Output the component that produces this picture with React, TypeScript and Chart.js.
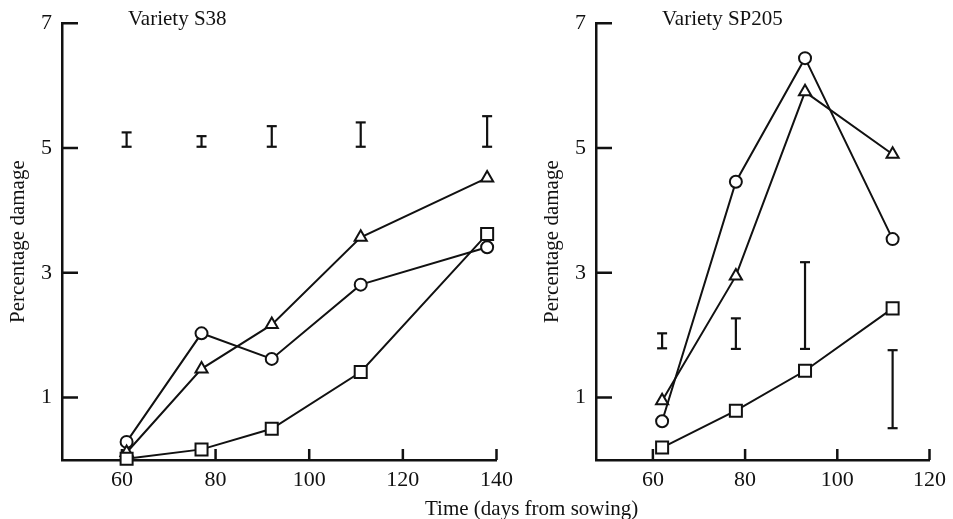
import React, { useEffect, useRef } from "react";
import { Chart, registerables } from "chart.js";

Chart.register(...registerables);

// ---- Data: Variety S38 ----
const daysS38 = [61, 77, 92, 111, 138];
const circleS38 = [0.29, 2.03, 1.62, 2.81, 3.41];
const triangleS38 = [0.12, 1.46, 2.17, 3.57, 4.52];
const squareS38 = [0.02, 0.17, 0.5, 1.41, 3.62];
const errLowS38 = [5.02, 5.02, 5.02, 5.02, 5.02];
const errHighS38 = [5.25, 5.19, 5.35, 5.41, 5.51];

// ---- Data: Variety SP205 ----
const daysSP205 = [62, 78, 93, 112];
const circleSP205 = [0.62, 4.46, 6.44, 3.54];
const triangleSP205 = [0.95, 2.95, 5.9, 4.9];
const squareSP205 = [0.2, 0.79, 1.43, 2.43];
const errLowSP205 = [1.79, 1.78, 1.78, 0.51];
const errHighSP205 = [2.03, 2.27, 3.17, 1.76];

// ---- Tick labels / texts ----
const yTicks = [1, 3, 5, 7];
const xTicksS38 = [60, 80, 100, 120, 140];
const xTicksSP205 = [60, 80, 100, 120];
const titleS38 = "Variety S38";
const titleSP205 = "Variety SP205";
const yTitle = "Percentage damage";
const xTitle = "Time (days from sowing)";

const FONT = '"Liberation Serif", "DejaVu Serif", serif';
const INK = "#111";

const inwardTicks = {
  id: "inwardTicks",
  beforeDatasetsDraw(chart: any) {
    const { ctx, chartArea, scales } = chart;
    ctx.save();
    ctx.strokeStyle = INK;
    ctx.lineWidth = 2.5;
    ctx.beginPath();
    scales.y.ticks.forEach((t: any) => {
      const py = scales.y.getPixelForValue(t.value);
      ctx.moveTo(chartArea.left, py);
      ctx.lineTo(chartArea.left + 16, py);
    });
    scales.x.ticks.forEach((t: any) => {
      const px = scales.x.getPixelForValue(t.value);
      ctx.moveTo(px, chartArea.bottom);
      ctx.lineTo(px, chartArea.bottom - 11);
    });
    ctx.stroke();
    ctx.restore();
  },
};

const panelLabel = {
  id: "panelLabel",
  afterDraw(chart: any, _args: any, opts: any) {
    const { ctx, chartArea } = chart;
    ctx.save();
    ctx.fillStyle = INK;
    ctx.font = `21px ${FONT}`;
    ctx.textBaseline = "middle";
    ctx.textAlign = "left";
    ctx.fillText(opts.text, chartArea.left + opts.dx, opts.y);
    ctx.restore();
  },
};

function series(days: number[], vals: number[]) {
  return days.map((d, i) => ({ x: d, y: vals[i] }));
}

function errSeries(days: number[], lo: number[], hi: number[]) {
  const out: any[] = [];
  days.forEach((d, i) => {
    out.push({ x: d, y: lo[i] }, { x: d, y: hi[i] }, { x: d, y: null });
  });
  return out;
}

function markerSet(data: any[], style: string, radius: number) {
  return {
    data,
    showLine: true,
    borderColor: INK,
    borderWidth: 2,
    tension: 0,
    pointStyle: style,
    pointRadius: radius,
    pointBackgroundColor: "#fff",
    pointBorderColor: INK,
    pointBorderWidth: 2,
    clip: false,
  };
}

function makeConfig(p: any) {
  return {
    type: "scatter",
    data: {
      datasets: [
        markerSet(series(p.days, p.square), "rect", 8.5),
        markerSet(series(p.days, p.triangle), "triangle", 7),
        markerSet(series(p.days, p.circle), "circle", 6),
        {
          data: errSeries(p.days, p.lo, p.hi),
          showLine: true,
          spanGaps: false,
          borderColor: INK,
          borderWidth: 2.2,
          pointStyle: "line",
          pointRadius: 5,
          pointBorderColor: INK,
          pointBorderWidth: 2.2,
          clip: false,
        },
      ],
    },
    options: {
      animation: false,
      responsive: false,
      devicePixelRatio: 1,
      layout: { padding: { left: 0, right: p.padRight, top: 18, bottom: 0 } },
      plugins: {
        legend: { display: false },
        tooltip: { enabled: false },
        panelLabel: { text: p.title, dx: 66, y: 19 },
      },
      scales: {
        x: {
          type: "linear",
          min: p.xMin,
          max: p.xMax,
          afterBuildTicks: (s: any) => {
            s.ticks = p.xTicks.map((v: number) => ({ value: v }));
          },
          afterFit: (s: any) => {
            s.height = 59;
          },
          grid: { display: false, drawTicks: false },
          border: { display: true, color: INK, width: 2.5 },
          ticks: {
            color: INK,
            padding: 7,
            font: { family: FONT, size: 22 },
            maxRotation: 0,
          },
        },
        y: {
          type: "linear",
          min: 0,
          max: 7,
          afterBuildTicks: (s: any) => {
            s.ticks = yTicks.map((v) => ({ value: v }));
          },
          afterFit: (s: any) => {
            s.width = p.yWidth;
          },
          grid: { display: false, drawTicks: false },
          border: { display: true, color: INK, width: 2.5 },
          ticks: {
            color: INK,
            padding: 10,
            font: { family: FONT, size: 22 },
          },
          title: {
            display: true,
            text: yTitle,
            color: INK,
            font: { family: FONT, size: 21 },
            padding: { top: p.yTitlePad, bottom: 0 },
          },
        },
      },
    },
    plugins: [inwardTicks, panelLabel],
  } as any;
}

function Panel(props: { left: number; width: number; cfg: any }) {
  const ref = useRef<HTMLCanvasElement>(null);
  useEffect(() => {
    if (!ref.current) return;
    const chart = new Chart(ref.current, props.cfg);
    return () => chart.destroy();
  }, []);
  return (
    <canvas
      ref={ref}
      width={props.width}
      height={519}
      style={{ position: "absolute", left: props.left, top: 0, width: props.width, height: 519 }}
    />
  );
}

export default function App() {
  const cfgS38 = makeConfig({
    days: daysS38,
    circle: circleS38,
    triangle: triangleS38,
    square: squareS38,
    lo: errLowS38,
    hi: errHighS38,
    xMin: 47.2,
    xMax: 140,
    xTicks: xTicksS38,
    title: titleS38,
    yWidth: 62,
    padRight: 22,
    yTitlePad: 6,
  });
  const cfgSP205 = makeConfig({
    days: daysSP205,
    circle: circleSP205,
    triangle: triangleSP205,
    square: squareSP205,
    lo: errLowSP205,
    hi: errHighSP205,
    xMin: 47.66,
    xMax: 120,
    xTicks: xTicksSP205,
    title: titleSP205,
    yWidth: 76,
    padRight: 19,
    yTitlePad: 20,
  });
  return (
    <div style={{ position: "absolute", left: 0, top: 0, width: 953, height: 519, background: "#fff", overflow: "hidden" }}>
      <Panel left={0} width={520} cfg={cfgS38} />
      <Panel left={520} width={433} cfg={cfgSP205} />
      <div
        style={{
          position: "absolute",
          left: 425,
          top: 496,
          font: `21px ${FONT}`,
          lineHeight: "24px",
          color: INK,
          whiteSpace: "nowrap",
        }}
      >
        {xTitle}
      </div>
    </div>
  );
}
